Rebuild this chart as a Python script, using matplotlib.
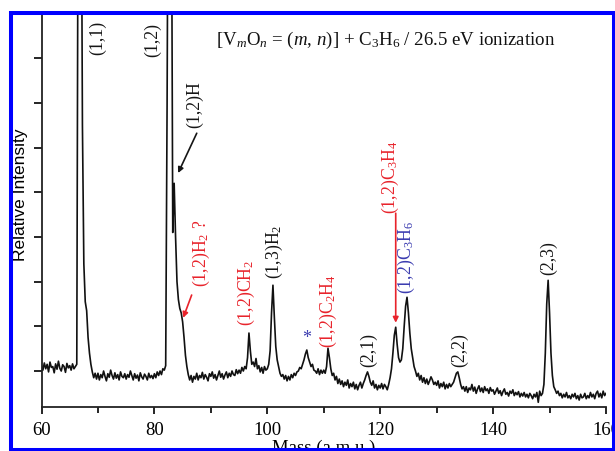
import numpy as np
import matplotlib
matplotlib.use("Agg")
import matplotlib.pyplot as plt
from matplotlib.patches import Rectangle

plt.rcParams['mathtext.fontset'] = 'custom'
plt.rcParams['mathtext.rm'] = 'Liberation Serif'
plt.rcParams['mathtext.it'] = 'Liberation Serif:italic'
plt.rcParams['font.family'] = ['Liberation Serif', 'DejaVu Serif']

# ---- data (mass axis sampled every 0.25 amu from 60 to 160) ----
mass_start = 60.0
mass_step = 0.25
intensity = [
    # 60.00 - 64.75
    0.12, 0.02, 0.18, 0.05, 0.15, -0.02, 0.20, 0.08, 0.10, -0.04, 0.16, 0.04, 0.22, 0.06, 0.00, 0.14, 0.10, -0.03, 0.17, 0.07,
    # 65.00 - 69.75
    0.12, 0.02, 0.16, 0.05, 0.10, 0.15, 12.0, 14.0, 13.0, 5.5, 2.4, 1.55, 1.35, 0.75, 0.40, 0.15, -0.02, -0.15, -0.05, -0.18,
    # 70.00 - 74.75
    -0.05, -0.20, -0.08, -0.15, 0.00, -0.12, -0.22, -0.06, -0.14, 0.02, -0.10, -0.18, -0.04, -0.16, -0.08, -0.20, -0.02, -0.12, -0.15, -0.06,
    # 75.00 - 79.75
    -0.18, -0.08, -0.14, 0.00, -0.10, -0.20, -0.06, -0.16, -0.09, -0.22, -0.04, -0.13, -0.18, -0.07, -0.12, -0.20, -0.05, -0.15, -0.10, -0.17,
    # 80.00 - 84.75
    -0.06, -0.15, -0.02, -0.10, 0.00, -0.08, 0.05, 0.02, 0.12, 6.0, 14.0, 14.0, 12.0, 3.1, 4.2, 3.0, 2.0, 1.6, 1.4, 1.3,
    # 85.00 - 89.75
    1.10, 0.75, 0.35, 0.10, -0.08, -0.20, -0.10, -0.25, -0.12, -0.18, -0.05, -0.20, -0.10, -0.15, -0.03, -0.18, -0.08, -0.14, -0.22, -0.06,
    # 90.00 - 94.75
    -0.12, -0.02, -0.16, -0.08, -0.20, -0.10, 0.00, -0.14, -0.06, -0.18, -0.09, -0.02, -0.15, -0.05, -0.12, 0.00, -0.08, -0.10, 0.03, -0.06,
    # 95.00 - 99.75
    0.02, -0.05, 0.08, 0.00, 0.10, 0.05, 0.30, 0.85, 0.45, 0.15, 0.20, 0.10, 0.28, 0.05, 0.12, -0.02, 0.08, -0.05, 0.10, 0.02,
    # 100.00 - 104.75
    0.05, 0.15, 0.45, 1.30, 1.92, 1.20, 0.55, 0.25, 0.10, -0.05, -0.12, -0.08, -0.18, -0.10, -0.22, -0.12, -0.20, -0.08, -0.15, -0.05,
    # 105.00 - 109.75
    -0.10, -0.02, 0.00, 0.08, 0.05, 0.15, 0.25, 0.38, 0.47, 0.30, 0.20, 0.10, 0.15, 0.02, 0.00, -0.05, 0.05, -0.08, 0.02, -0.05,
    # 110.00 - 114.75
    0.02, -0.05, 0.10, 0.51, 0.30, 0.05, -0.10, -0.05, -0.20, -0.12, -0.28, -0.18, -0.30, -0.22, -0.35, -0.25, -0.32, -0.20, -0.38, -0.28,
    # 115.00 - 119.75
    -0.35, -0.25, -0.40, -0.30, -0.42, -0.32, -0.25, -0.38, -0.28, -0.20, -0.10, -0.02, -0.12, -0.25, -0.32, -0.22, -0.38, -0.30, -0.42, -0.32,
    # 120.00 - 124.75
    -0.38, -0.28, -0.40, -0.30, -0.35, -0.42, -0.30, -0.15, 0.05, 0.40, 0.80, 0.98, 0.60, 0.30, 0.20, 0.25, 0.50, 1.00, 1.45, 1.65,
    # 125.00 - 129.75
    1.30, 0.85, 0.50, 0.30, 0.10, 0.00, -0.12, -0.05, -0.20, -0.10, -0.25, -0.15, -0.28, -0.18, -0.30, -0.22, -0.13, -0.20, -0.30, -0.25,
    # 130.00 - 134.75
    -0.32, -0.22, -0.38, -0.28, -0.35, -0.25, -0.40, -0.30, -0.38, -0.28, -0.35, -0.30, -0.25, -0.15, -0.05, -0.02, -0.15, -0.30, -0.40, -0.35,
    # 135.00 - 139.75
    -0.45, -0.35, -0.48, -0.38, -0.42, -0.30, -0.45, -0.36, -0.50, -0.40, -0.33, -0.46, -0.38, -0.48, -0.35, -0.44, -0.40, -0.50, -0.37, -0.45,
    # 140.00 - 144.75
    -0.42, -0.52, -0.45, -0.38, -0.50, -0.44, -0.55, -0.46, -0.40, -0.52, -0.48, -0.56, -0.45, -0.50, -0.42, -0.55, -0.48, -0.53, -0.46, -0.58,
    # 145.00 - 149.75
    -0.50, -0.56, -0.48, -0.58, -0.52, -0.60, -0.50, -0.55, -0.62, -0.52, -0.58, -0.48, -0.70, -0.45, -0.55, -0.50, -0.30, 0.40, 1.50, 2.03,
    # 150.00 - 154.75
    1.30, 0.40, -0.10, -0.35, -0.42, -0.50, -0.45, -0.55, -0.50, -0.60, -0.52, -0.58, -0.48, -0.60, -0.55, -0.62, -0.52, -0.58, -0.50, -0.62,
    # 155.00 - 160.00
    -0.55, -0.65, -0.52, -0.60, -0.58, -0.50, -0.62, -0.55, -0.60, -0.48, -0.58, -0.52, -0.62, -0.50, -0.45, -0.58, -0.50, -0.60, -0.45, -0.55,
    -0.50,
]
mass = mass_start + mass_step * np.arange(len(intensity))

x_ticks = [60, 80, 100, 120, 140, 160]
x_tick_labels = ["60", "80", "100", "120", "140", "160"]

# peak labels: (text, mass, height, colour)
peak_labels = [
    ("(1,1)", 70.0, 7.45, "black"),
    ("(1,2)", 79.75, 7.40, "black"),
    ("(1,2)H", 87.2, 5.97, "black"),
    ("(1,2)H$_2$ ?", 88.3, 2.64, "red"),
    ("(1,2)CH$_2$", 96.3, 1.74, "red"),
    ("(1,3)H$_2$", 101.2, 2.66, "black"),
    ("(1,2)C$_2$H$_4$", 110.9, 1.34, "red"),
    ("(2,1)", 117.9, 0.47, "black"),
    ("(1,2)C$_3$H$_4$", 121.9, 4.34, "red"),
    ("(1,2)C$_3$H$_6$", 124.6, 2.55, "blue"),
    ("(2,2)", 134.1, 0.47, "black"),
    ("(2,3)", 149.9, 2.53, "black"),
]
colour_map = {"black": "#151515", "red": "#e8232b", "blue": "#3b3cb0"}

# arrows: (start mass, start height, end mass, end height, colour)
arrows = [
    (87.5, 5.32, 84.2, 4.43, "black"),
    (86.6, 1.70, 85.1, 1.19, "red"),
    (122.75, 3.53, 122.75, 1.08, "red"),
]

fig = plt.figure(figsize=(6.15, 4.51), dpi=100)
ax = fig.add_axes([41.5 / 615, 44 / 451, (606 - 41.5) / 615, (407 - 13) / 451])
ax.plot(mass, intensity, color="#111111", lw=1.2)
ax.set_xlim(60, 160)
ax.set_ylim(-0.805, 8.01)

ax.spines["top"].set_visible(False)
ax.spines["right"].set_visible(False)
for s in ("left", "bottom"):
    ax.spines[s].set_linewidth(1.3)
    ax.spines[s].set_color("#222222")

ax.set_xticks(x_ticks)
ax.set_xticklabels(x_tick_labels, fontsize=13.5)
ax.set_xticks([70, 90, 110, 130, 150], minor=True)
ax.set_yticks(range(0, 8))
ax.set_yticklabels([])
ax.tick_params(axis="x", which="major", direction="out", length=5, width=1.2, pad=6)
ax.tick_params(axis="x", which="minor", direction="out", length=4, width=1.2)
ax.tick_params(axis="y", which="major", direction="out", length=6, width=1.2)

ax.set_xlabel("Mass (a.m.u.)", fontsize=13.5, labelpad=0)
fig.text(20 / 615, 1 - 195 / 451, "Relative Intensity", rotation=90,
         ha="center", va="center", fontsize=12.5, family=["Liberation Sans"])

ax.text(121.0, 7.40,
        r"[V$_{\mathit{m}}$O$_{\mathit{n}}$ = ($\mathit{m}$, $\mathit{n}$)] + C$_3$H$_6$ / 26.5 eV ionization",
        ha="center", va="center", fontsize=13.6, color="#111111")

for txt, m, h, c in peak_labels:
    ax.text(m, h, txt, rotation=90, ha="center", va="center",
            fontsize=12.8, color=colour_map[c])

ax.text(107.0, 0.72, "*", ha="center", va="center", fontsize=13,
        color=colour_map["blue"])

for x0, y0, x1, y1, c in arrows:
    ax.annotate("", xy=(x1, y1), xytext=(x0, y0),
                arrowprops=dict(arrowstyle="-|>", color=colour_map[c], lw=1.2,
                                mutation_scale=8, shrinkA=0, shrinkB=0))

fig.add_artist(Rectangle((11 / 615, 1.5 / 451), (613.5 - 11) / 615, (438.5 - 1.5) / 451,
                         transform=fig.transFigure, fill=False, ec="#0000ff",
                         lw=2.9, zorder=10))

fig.savefig("out.png", dpi=100)
